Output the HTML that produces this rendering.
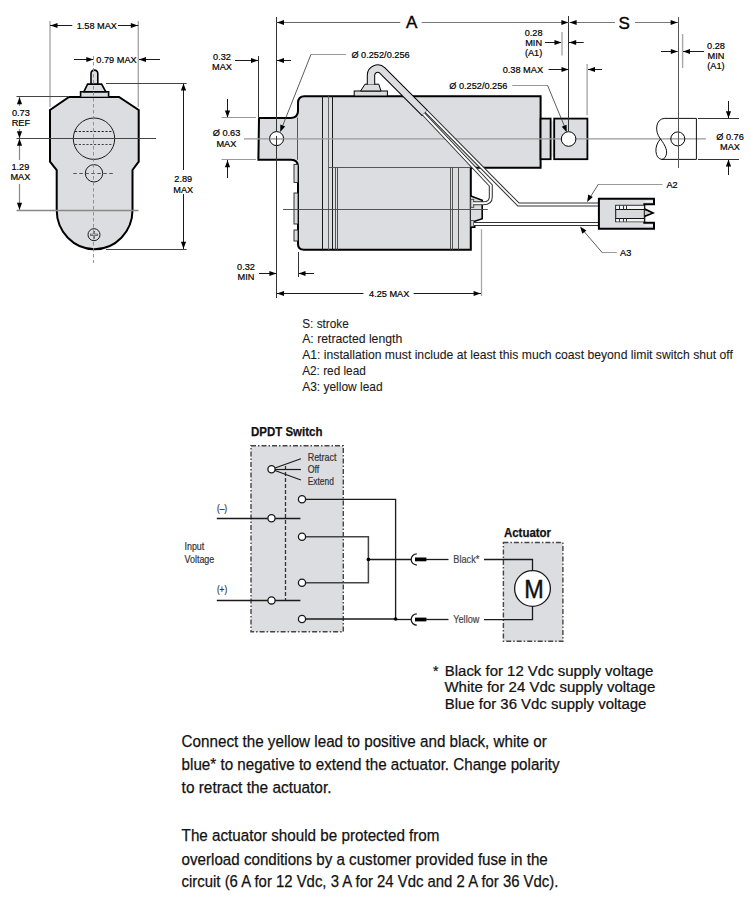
<!DOCTYPE html><html><head><meta charset="utf-8"><style>html,body{margin:0;padding:0;background:#fff;overflow:hidden;width:750px;height:904px;}svg{display:block;}text{font-family:"Liberation Sans",sans-serif;}</style></head><body>
<svg width="750" height="904" viewBox="0 0 750 904">
<path d="M69,97 L119,97 L138.7,110 L138.7,161.7 L132.5,170 L132.5,210 A37.9,39.2 0 0 1 56.7,210 L56.7,170 L50,161.7 L50,110 Z" fill="#dcdde0" stroke="#000" stroke-width="2" stroke-linejoin="miter"/>
<path d="M80.6,96.7 L80.6,91.8 L108.6,91.8 L108.6,96.7" fill="#dcdde0" stroke="#000" stroke-width="1.6"/>
<path d="M83.8,91.8 L87.6,84.1 L101.6,84.1 L105.8,91.8 Z" fill="#dcdde0" stroke="#000" stroke-width="1.6"/>
<path d="M91,84.1 L91,73.5 A3.4,3.4 0 0 1 97.8,73.5 L97.8,84.1 Z" fill="#dcdde0" stroke="#000" stroke-width="1.6"/>
<circle cx="94" cy="138.7" r="20.7" fill="none" stroke="#1a1a1a" stroke-width="1"/>
<line x1="75" y1="131.5" x2="113" y2="131.5" stroke="#222" stroke-width="1" stroke-dasharray="2.2,1.6"/>
<line x1="75" y1="144.5" x2="113" y2="144.5" stroke="#444" stroke-width="1" stroke-dasharray="2.2,1.6"/>
<circle cx="94" cy="173.3" r="8.7" fill="none" stroke="#1a1a1a" stroke-width="1"/>
<line x1="73.3" y1="173.5" x2="113.1" y2="173.5" stroke="#444" stroke-width="0.9" stroke-dasharray="3.5,2.5"/>
<circle cx="94" cy="234.7" r="6" fill="none" stroke="#1a1a1a" stroke-width="1"/>
<path d="M90.2,234.7 H97.8 M94,230.9 V238.5" stroke="#333" stroke-width="2"/>
<path d="M90.8,234.7 H97.2 M94,231.5 V237.9" stroke="#dcdde0" stroke-width="0.8"/>
<line x1="93.5" y1="56" x2="93.5" y2="263" stroke="#888" stroke-width="0.9" stroke-dasharray="3.5,2.5"/>
<line x1="50" y1="21" x2="50" y2="107" stroke="#a8a8a8" stroke-width="1.4" />
<line x1="138.3" y1="21" x2="138.3" y2="107" stroke="#a8a8a8" stroke-width="1.4" />
<line x1="16.5" y1="96.5" x2="69" y2="96.5" stroke="#444" stroke-width="1" />
<line x1="16.5" y1="138.5" x2="156" y2="138.5" stroke="#444" stroke-width="1" />
<line x1="16.5" y1="210.5" x2="138.5" y2="210.5" stroke="#888" stroke-width="1.3" />
<line x1="106" y1="83.5" x2="186.7" y2="83.5" stroke="#444" stroke-width="1" />
<line x1="106" y1="249.5" x2="186.7" y2="249.5" stroke="#444" stroke-width="1" />
<line x1="50" y1="25.5" x2="72.3" y2="25.5" stroke="#1a1a1a" stroke-width="1" />
<line x1="118" y1="25.5" x2="138.3" y2="25.5" stroke="#1a1a1a" stroke-width="1" />
<path d="M50.50,25.50 L57.50,22.90 L57.50,28.10 Z" fill="#000"/>
<path d="M137.80,25.50 L130.80,28.10 L130.80,22.90 Z" fill="#000"/>
<text x="96.8" y="28.6" font-size="9.2" text-anchor="middle" font-weight="normal" fill="#000" stroke="#000" stroke-width="0.2" >1.58 MAX</text>
<line x1="74" y1="59.5" x2="93.3" y2="59.5" stroke="#1a1a1a" stroke-width="1" />
<path d="M93.30,59.50 L86.30,62.10 L86.30,56.90 Z" fill="#000"/>
<line x1="139" y1="59.5" x2="160" y2="59.5" stroke="#1a1a1a" stroke-width="1" />
<path d="M139.00,59.50 L146.00,56.90 L146.00,62.10 Z" fill="#000"/>
<text x="96.3" y="62.8" font-size="9.2" text-anchor="start" font-weight="normal" fill="#000" stroke="#000" stroke-width="0.2" >0.79 MAX</text>
<line x1="19.5" y1="97" x2="19.5" y2="106" stroke="#888" stroke-width="1.2" />
<line x1="19.5" y1="129" x2="19.5" y2="138" stroke="#888" stroke-width="1.2" />
<path d="M19.50,97.20 L22.10,104.20 L16.90,104.20 Z" fill="#000"/>
<path d="M19.50,138.30 L16.90,131.30 L22.10,131.30 Z" fill="#000"/>
<text x="20.9" y="116" font-size="9.2" text-anchor="middle" font-weight="normal" fill="#000" stroke="#000" stroke-width="0.2" >0.73</text>
<text x="20.9" y="126.3" font-size="9.2" text-anchor="middle" font-weight="normal" fill="#000" stroke="#000" stroke-width="0.2" >REF</text>
<line x1="19.5" y1="139" x2="19.5" y2="160" stroke="#888" stroke-width="1.2" />
<line x1="19.5" y1="184" x2="19.5" y2="210" stroke="#888" stroke-width="1.2" />
<path d="M19.50,138.70 L22.10,145.70 L16.90,145.70 Z" fill="#000"/>
<path d="M19.50,209.80 L16.90,202.80 L22.10,202.80 Z" fill="#000"/>
<text x="20.4" y="169.6" font-size="9.2" text-anchor="middle" font-weight="normal" fill="#000" stroke="#000" stroke-width="0.2" >1.29</text>
<text x="20.4" y="180.1" font-size="9.2" text-anchor="middle" font-weight="normal" fill="#000" stroke="#000" stroke-width="0.2" >MAX</text>
<line x1="183.5" y1="83.3" x2="183.5" y2="170" stroke="#1a1a1a" stroke-width="1" />
<line x1="183.5" y1="194" x2="183.5" y2="249" stroke="#1a1a1a" stroke-width="1" />
<path d="M183.50,83.60 L186.10,90.60 L180.90,90.60 Z" fill="#000"/>
<path d="M183.50,248.70 L180.90,241.70 L186.10,241.70 Z" fill="#000"/>
<text x="183.3" y="182.3" font-size="9.2" text-anchor="middle" font-weight="normal" fill="#000" stroke="#000" stroke-width="0.2" >2.89</text>
<text x="183.3" y="192.5" font-size="9.2" text-anchor="middle" font-weight="normal" fill="#000" stroke="#000" stroke-width="0.2" >MAX</text>
<path d="M259,117.9 L291,117.9 Q298,117.6 298,111 L298,103 Q298,96.3 304.5,96.3 L540.6,96.3 L540.6,167.8 L470.8,167.8 L470.8,249.8 L304,249.8 Q298,249.8 298,244 L298,166.8 Q298,159.8 291,159.8 L258.4,159.8 Z" fill="#dcdde0" stroke="#000" stroke-width="2"/>
<line x1="297.5" y1="117.6" x2="297.5" y2="159.8" stroke="#555" stroke-width="1" />
<line x1="322.5" y1="96.3" x2="322.5" y2="249.8" stroke="#1a1a1a" stroke-width="1" />
<line x1="328.5" y1="96.3" x2="328.5" y2="249.8" stroke="#666" stroke-width="1" />
<line x1="332.5" y1="96.3" x2="332.5" y2="249.8" stroke="#1a1a1a" stroke-width="1" />
<line x1="328.6" y1="167.5" x2="470.8" y2="167.5" stroke="#555" stroke-width="1" />
<line x1="335.5" y1="167.6" x2="335.5" y2="249.8" stroke="#444" stroke-width="0.9" />
<line x1="337.5" y1="167.6" x2="337.5" y2="249.8" stroke="#444" stroke-width="0.9" />
<line x1="450.5" y1="167.6" x2="450.5" y2="249.8" stroke="#444" stroke-width="0.9" />
<line x1="452.5" y1="167.6" x2="452.5" y2="249.8" stroke="#444" stroke-width="0.9" />
<line x1="458.5" y1="167.6" x2="458.5" y2="249.8" stroke="#444" stroke-width="0.9" />
<rect x="294" y="164.4" width="4" height="18.0" fill="#dcdde0" stroke="#222" stroke-width="0.9"/>
<rect x="294" y="193" width="4" height="31" fill="#dcdde0" stroke="#222" stroke-width="0.9"/>
<rect x="294" y="230" width="4" height="11" fill="#dcdde0" stroke="#222" stroke-width="0.9"/>
<path d="M470.8,196 L482.2,200.3 L482.2,218.7 L474.7,221.3 L474.7,227.3 L470.8,227.3" fill="#dcdde0" stroke="#000" stroke-width="1.6"/>
<rect x="470.8" y="199.3" width="3" height="8" fill="#dcdde0" stroke="#333" stroke-width="0.8"/>
<rect x="470.8" y="220.6" width="3" height="6" fill="#dcdde0" stroke="#333" stroke-width="0.8"/>
<rect x="550.6" y="121" width="3.6" height="36" fill="#e8e8e8"/>
<rect x="540.6" y="118.6" width="10" height="40.6" fill="#dcdde0" stroke="#000" stroke-width="1.8"/>
<rect x="554.2" y="118.6" width="33.2" height="40.6" fill="#dcdde0" stroke="#000" stroke-width="1.8"/>
<line x1="244" y1="138.9" x2="706" y2="138.9" stroke="#999" stroke-width="1.4" />
<line x1="283" y1="209.5" x2="487.8" y2="209.5" stroke="#444" stroke-width="0.9" />
<rect x="354.2" y="91" width="33.2" height="5" fill="#dcdde0" stroke="#000" stroke-width="1"/>
<path d="M360.6,91 L365,84.2 L378.8,84.2 L381,91 Z" fill="#dcdde0" stroke="#000" stroke-width="1"/>
<path d="M371,84.5 L371,75.25 A6.65,6.65 0 0 1 382.35,70.55 L424.8,113" fill="none" stroke="#000" stroke-width="8.4"/>
<path d="M371,84.5 L371,75.25 A6.65,6.65 0 0 1 382.35,70.55 L424.8,113" fill="none" stroke="#dcdde0" stroke-width="6.4"/>
<path d="M421.9,115.9 L427.7,110.1" stroke="#000" stroke-width="1"/>
<path d="M423.5,114 L490.8,185.5 L490.8,197 Q490.8,203.2 483.5,203.2 L473,203.2" fill="none" stroke="#333" stroke-width="4" stroke-linejoin="miter"/>
<path d="M426.3,111.3 L518.4,204.5 L599,204.5" fill="none" stroke="#333" stroke-width="4" stroke-linejoin="miter"/>
<path d="M474,224 L599,224" fill="none" stroke="#333" stroke-width="4" stroke-linejoin="miter"/>
<path d="M423.5,114 L490.8,185.5 L490.8,197 Q490.8,203.2 483.5,203.2 L473,203.2" fill="none" stroke="#fff" stroke-width="1.9" stroke-linejoin="miter"/>
<path d="M426.3,111.3 L518.4,204.5 L599,204.5" fill="none" stroke="#fff" stroke-width="1.9" stroke-linejoin="miter"/>
<path d="M474,224 L599,224" fill="none" stroke="#fff" stroke-width="1.9" stroke-linejoin="miter"/>
<path d="M598.9,198.7 L654,198.7 L654,204.3 L644.3,204.3 L644.3,209 L652.6,212.9 L644.3,216.3 L644.3,222.7 L654,222.7 L654,228.7 L598.9,228.7 Z" fill="#dcdde0" stroke="#000" stroke-width="2"/>
<rect x="615.7" y="205.3" width="28.6" height="16.4" fill="#d8d9dc" stroke="#111" stroke-width="1"/>
<rect x="616.2" y="205.8" width="27.6" height="3.5" fill="#f3f3f3"/>
<rect x="616.2" y="218.3" width="27.6" height="3.2" fill="#f3f3f3"/>
<line x1="615.7" y1="209.5" x2="644.3" y2="209.5" stroke="#111" stroke-width="1" />
<line x1="615.7" y1="218.5" x2="644.3" y2="218.5" stroke="#111" stroke-width="1" />
<line x1="619.5" y1="205.3" x2="619.5" y2="209.3" stroke="#333" stroke-width="1" />
<line x1="619.5" y1="218.3" x2="619.5" y2="221.7" stroke="#333" stroke-width="1" />
<line x1="623.5" y1="205.3" x2="623.5" y2="209.3" stroke="#333" stroke-width="1" />
<line x1="623.5" y1="218.3" x2="623.5" y2="221.7" stroke="#333" stroke-width="1" />
<line x1="626.5" y1="205.3" x2="626.5" y2="209.3" stroke="#333" stroke-width="1" />
<line x1="626.5" y1="218.3" x2="626.5" y2="221.7" stroke="#333" stroke-width="1" />
<line x1="645" y1="201.5" x2="653" y2="201.5" stroke="#f3f3f3" stroke-width="1.2" />
<line x1="645" y1="225.5" x2="653" y2="225.5" stroke="#f3f3f3" stroke-width="1.2" />
<path d="M645.5,210.5 L651,212.9 L645.5,215 Z" fill="#c9c9c9"/>
<path d="M664.2,118.4 L696.4,118.4 L696.4,159.4 L661.5,159.4" fill="none" stroke="#111" stroke-width="1"/>
<path d="M664.2,118.4 C656,119 654,131 660.5,139 C665,145 669,152 665,157.5 Q663.5,159.4 661.5,159.4 C655,158.5 653.5,146 660.5,139" fill="none" stroke="#111" stroke-width="1"/>
<circle cx="677.8" cy="138.9" r="7" fill="none" stroke="#000" stroke-width="1"/>
<line x1="678.5" y1="17" x2="678.5" y2="168" stroke="#555" stroke-width="1" />
<line x1="276.5" y1="17" x2="276.5" y2="298" stroke="#333" stroke-width="1" />
<line x1="568.5" y1="16" x2="568.5" y2="131" stroke="#333" stroke-width="1" />
<line x1="276.6" y1="22.5" x2="400.3" y2="22.5" stroke="#666" stroke-width="1" />
<line x1="421.6" y1="22.5" x2="568.8" y2="22.5" stroke="#777" stroke-width="1" />
<path d="M277.00,22.50 L284.00,19.90 L284.00,25.10 Z" fill="#000"/>
<path d="M568.40,22.50 L561.40,25.10 L561.40,19.90 Z" fill="#000"/>
<text x="411.7" y="27.6" font-size="17" text-anchor="middle" font-weight="normal" fill="#000" stroke="#000" stroke-width="0.35" >A</text>
<line x1="569.5" y1="22.5" x2="615" y2="22.5" stroke="#777" stroke-width="1" />
<line x1="635" y1="22.5" x2="678" y2="22.5" stroke="#777" stroke-width="1" />
<path d="M569.60,22.50 L576.60,19.90 L576.60,25.10 Z" fill="#000"/>
<path d="M677.60,22.50 L670.60,25.10 L670.60,19.90 Z" fill="#000"/>
<text x="624.2" y="29" font-size="17" text-anchor="middle" font-weight="normal" fill="#000" stroke="#000" stroke-width="0.35" >S</text>
<line x1="258.5" y1="56" x2="258.5" y2="118" stroke="#333" stroke-width="1" />
<line x1="235" y1="60.5" x2="258" y2="60.5" stroke="#1a1a1a" stroke-width="1" />
<path d="M258.00,60.50 L251.00,63.10 L251.00,57.90 Z" fill="#000"/>
<line x1="277" y1="60.5" x2="291" y2="60.5" stroke="#1a1a1a" stroke-width="1" />
<path d="M277.00,60.50 L284.00,57.90 L284.00,63.10 Z" fill="#000"/>
<text x="222" y="60.3" font-size="9.2" text-anchor="middle" font-weight="normal" fill="#000" stroke="#000" stroke-width="0.2" >0.32</text>
<text x="222" y="69.9" font-size="9.2" text-anchor="middle" font-weight="normal" fill="#000" stroke="#000" stroke-width="0.2" >MAX</text>
<line x1="221.6" y1="117.5" x2="256" y2="117.5" stroke="#999" stroke-width="1.2" />
<line x1="221.6" y1="159.5" x2="256" y2="159.5" stroke="#999" stroke-width="1.2" />
<line x1="227.5" y1="99" x2="227.5" y2="117" stroke="#1a1a1a" stroke-width="1" />
<path d="M227.50,117.40 L224.90,110.40 L230.10,110.40 Z" fill="#000"/>
<line x1="227.5" y1="160" x2="227.5" y2="178" stroke="#1a1a1a" stroke-width="1" />
<path d="M227.50,160.20 L230.10,167.20 L224.90,167.20 Z" fill="#000"/>
<text x="226.5" y="136.3" font-size="9.2" text-anchor="middle" font-weight="normal" fill="#000" stroke="#000" stroke-width="0.2" >Ø 0.63</text>
<text x="226.4" y="146.9" font-size="9.2" text-anchor="middle" font-weight="normal" fill="#000" stroke="#000" stroke-width="0.2" >MAX</text>
<line x1="311" y1="54.5" x2="346" y2="54.5" stroke="#999" stroke-width="1" />
<line x1="311" y1="54.4" x2="281" y2="130" stroke="#333" stroke-width="0.8" />
<path d="M280.20,132.00 L280.32,124.53 L285.17,126.42 Z" fill="#000"/>
<text x="351.4" y="57.9" font-size="9.2" text-anchor="start" font-weight="normal" fill="#000" stroke="#000" stroke-width="0.2" >Ø 0.252/0.256</text>
<line x1="562" y1="32" x2="562" y2="55.5" stroke="#a8a8a8" stroke-width="1.4" />
<line x1="545" y1="42.5" x2="561" y2="42.5" stroke="#1a1a1a" stroke-width="1" />
<path d="M561.50,42.50 L554.50,45.10 L554.50,39.90 Z" fill="#000"/>
<line x1="569" y1="42.5" x2="583.7" y2="42.5" stroke="#1a1a1a" stroke-width="1" />
<path d="M569.20,42.50 L576.20,39.90 L576.20,45.10 Z" fill="#000"/>
<text x="533.6" y="36.3" font-size="9.2" text-anchor="middle" font-weight="normal" fill="#000" stroke="#000" stroke-width="0.2" >0.28</text>
<text x="533.6" y="46" font-size="9.2" text-anchor="middle" font-weight="normal" fill="#000" stroke="#000" stroke-width="0.2" >MIN</text>
<text x="533.6" y="56.3" font-size="9.2" text-anchor="middle" font-weight="normal" fill="#000" stroke="#000" stroke-width="0.2" >(A1)</text>
<line x1="587.1" y1="64" x2="587.1" y2="115.2" stroke="#a8a8a8" stroke-width="1.4" />
<line x1="548.5" y1="69.5" x2="568.5" y2="69.5" stroke="#1a1a1a" stroke-width="1" />
<path d="M568.50,69.50 L561.50,72.10 L561.50,66.90 Z" fill="#000"/>
<line x1="588" y1="69.5" x2="602" y2="69.5" stroke="#1a1a1a" stroke-width="1" />
<path d="M588.00,69.50 L595.00,66.90 L595.00,72.10 Z" fill="#000"/>
<text x="502.7" y="73.3" font-size="9.2" text-anchor="start" font-weight="normal" fill="#000" stroke="#000" stroke-width="0.2" >0.38 MAX</text>
<line x1="512.3" y1="85.5" x2="547.5" y2="85.5" stroke="#999" stroke-width="1" />
<line x1="547.5" y1="85.3" x2="566" y2="130" stroke="#333" stroke-width="0.8" />
<path d="M566.70,132.30 L561.73,126.72 L566.58,124.83 Z" fill="#000"/>
<text x="449.2" y="88.8" font-size="9.2" text-anchor="start" font-weight="normal" fill="#000" stroke="#000" stroke-width="0.2" >Ø 0.252/0.256</text>
<line x1="682.6" y1="34" x2="682.6" y2="68" stroke="#a8a8a8" stroke-width="1.4" />
<line x1="661" y1="51.5" x2="677.6" y2="51.5" stroke="#1a1a1a" stroke-width="1" />
<path d="M677.80,51.50 L670.80,54.10 L670.80,48.90 Z" fill="#000"/>
<line x1="683" y1="51.5" x2="704" y2="51.5" stroke="#1a1a1a" stroke-width="1" />
<path d="M683.00,51.50 L690.00,48.90 L690.00,54.10 Z" fill="#000"/>
<text x="716" y="48.9" font-size="9.2" text-anchor="middle" font-weight="normal" fill="#000" stroke="#000" stroke-width="0.2" >0.28</text>
<text x="716" y="58.9" font-size="9.2" text-anchor="middle" font-weight="normal" fill="#000" stroke="#000" stroke-width="0.2" >MIN</text>
<text x="716" y="69.3" font-size="9.2" text-anchor="middle" font-weight="normal" fill="#000" stroke="#000" stroke-width="0.2" >(A1)</text>
<line x1="698" y1="118.5" x2="739" y2="118.5" stroke="#333" stroke-width="1" />
<line x1="698" y1="159.5" x2="739" y2="159.5" stroke="#333" stroke-width="1" />
<line x1="728.5" y1="101" x2="728.5" y2="118" stroke="#1a1a1a" stroke-width="1" />
<path d="M728.50,118.20 L725.90,111.20 L731.10,111.20 Z" fill="#000"/>
<line x1="728.5" y1="160" x2="728.5" y2="175" stroke="#1a1a1a" stroke-width="1" />
<path d="M728.50,159.60 L731.10,166.60 L725.90,166.60 Z" fill="#000"/>
<text x="730" y="139.9" font-size="9.2" text-anchor="middle" font-weight="normal" fill="#000" stroke="#000" stroke-width="0.2" >Ø 0.76</text>
<text x="730" y="150.3" font-size="9.2" text-anchor="middle" font-weight="normal" fill="#000" stroke="#000" stroke-width="0.2" >MAX</text>
<line x1="298.5" y1="252" x2="298.5" y2="277" stroke="#333" stroke-width="1" />
<line x1="259" y1="273.5" x2="276.4" y2="273.5" stroke="#1a1a1a" stroke-width="1" />
<path d="M276.40,273.50 L269.40,276.10 L269.40,270.90 Z" fill="#000"/>
<line x1="298.5" y1="273.5" x2="314" y2="273.5" stroke="#1a1a1a" stroke-width="1" />
<path d="M298.50,273.50 L305.50,270.90 L305.50,276.10 Z" fill="#000"/>
<text x="246" y="270.3" font-size="9.2" text-anchor="middle" font-weight="normal" fill="#000" stroke="#000" stroke-width="0.2" >0.32</text>
<text x="246" y="280.3" font-size="9.2" text-anchor="middle" font-weight="normal" fill="#000" stroke="#000" stroke-width="0.2" >MIN</text>
<line x1="481.5" y1="229.2" x2="481.5" y2="296" stroke="#a8a8a8" stroke-width="1.3" />
<line x1="276.6" y1="293.5" x2="363.5" y2="293.5" stroke="#1a1a1a" stroke-width="1" />
<line x1="413.6" y1="293.5" x2="481" y2="293.5" stroke="#1a1a1a" stroke-width="1" />
<path d="M277.00,293.50 L284.00,290.90 L284.00,296.10 Z" fill="#000"/>
<path d="M480.60,293.50 L473.60,296.10 L473.60,290.90 Z" fill="#000"/>
<text x="389.2" y="297" font-size="9.2" text-anchor="middle" font-weight="normal" fill="#000" stroke="#000" stroke-width="0.2" >4.25 MAX</text>
<line x1="598.4" y1="184.5" x2="662.4" y2="184.5" stroke="#999" stroke-width="1" />
<line x1="598.4" y1="184.1" x2="588.5" y2="200" stroke="#333" stroke-width="0.8" />
<path d="M587.20,202.00 L588.18,194.60 L592.78,197.03 Z" fill="#000"/>
<text x="666.4" y="187.5" font-size="9.2" text-anchor="start" font-weight="normal" fill="#000" stroke="#000" stroke-width="0.2" >A2</text>
<line x1="602.4" y1="252.5" x2="616.8" y2="252.5" stroke="#999" stroke-width="1" />
<line x1="602.4" y1="252.8" x2="581.5" y2="228.5" stroke="#333" stroke-width="0.8" />
<path d="M580.00,226.60 L586.40,230.44 L582.34,233.69 Z" fill="#000"/>
<text x="620" y="256.2" font-size="9.2" text-anchor="start" font-weight="normal" fill="#000" stroke="#000" stroke-width="0.2" >A3</text>
<circle cx="276.6" cy="138.6" r="7" fill="#fff" stroke="#000" stroke-width="1"/>
<line x1="269.6" y1="138.9" x2="283.6" y2="138.9" stroke="#999" stroke-width="1.4" />
<line x1="276.5" y1="136" x2="276.5" y2="145.6" stroke="#333" stroke-width="1" />
<circle cx="568.6" cy="139" r="7.3" fill="#fff" stroke="#000" stroke-width="1"/>
<text x="302.2" y="327.6" font-size="13.6" text-anchor="start" font-weight="normal" fill="#1a1a1a" textLength="46.6" lengthAdjust="spacingAndGlyphs" stroke="#1a1a1a" stroke-width="0.1" >S: stroke</text>
<text x="302.2" y="343.3" font-size="13.6" text-anchor="start" font-weight="normal" fill="#1a1a1a" textLength="100.1" lengthAdjust="spacingAndGlyphs" stroke="#1a1a1a" stroke-width="0.1" >A: retracted length</text>
<text x="302.2" y="359.4" font-size="13.6" text-anchor="start" font-weight="normal" fill="#1a1a1a" textLength="430.7" lengthAdjust="spacingAndGlyphs" stroke="#1a1a1a" stroke-width="0.1" >A1: installation must include at least this much coast beyond limit switch shut off</text>
<text x="302.2" y="375.3" font-size="13.6" text-anchor="start" font-weight="normal" fill="#1a1a1a" textLength="63.6" lengthAdjust="spacingAndGlyphs" stroke="#1a1a1a" stroke-width="0.1" >A2: red lead</text>
<text x="302.2" y="391.3" font-size="13.6" text-anchor="start" font-weight="normal" fill="#1a1a1a" textLength="80.4" lengthAdjust="spacingAndGlyphs" stroke="#1a1a1a" stroke-width="0.1" >A3: yellow lead</text>
<text x="251" y="435.5" font-size="12.8" text-anchor="start" font-weight="bold" fill="#111" textLength="71.4" lengthAdjust="spacingAndGlyphs" stroke="#111" stroke-width="0.25" >DPDT Switch</text>
<rect x="251" y="445.8" width="92.3" height="186" fill="#dcdde0" stroke="#444" stroke-width="1.4" stroke-dasharray="5,2,1.5,2"/>
<line x1="285.5" y1="466" x2="285.5" y2="600.3" stroke="#333" stroke-width="1.3" stroke-dasharray="4,2"/>
<line x1="271.5" y1="469.3" x2="300.9" y2="458.7" stroke="#1a1a1a" stroke-width="1.2" />
<line x1="271.5" y1="469.5" x2="300.9" y2="469.5" stroke="#1a1a1a" stroke-width="1.2" />
<line x1="271.5" y1="469.3" x2="300.9" y2="480" stroke="#1a1a1a" stroke-width="1.2" />
<circle cx="271.5" cy="469.3" r="3.6" fill="#fff" stroke="#1a1a1a" stroke-width="1.3"/>
<text x="307.7" y="461.2" font-size="10.4" text-anchor="start" font-weight="normal" fill="#333" textLength="28.8" lengthAdjust="spacingAndGlyphs" stroke="#333" stroke-width="0.2" >Retract</text>
<text x="307.7" y="472.9" font-size="10.4" text-anchor="start" font-weight="normal" fill="#333" textLength="11.5" lengthAdjust="spacingAndGlyphs" stroke="#333" stroke-width="0.2" >Off</text>
<text x="307.7" y="484.7" font-size="10.4" text-anchor="start" font-weight="normal" fill="#333" textLength="26.2" lengthAdjust="spacingAndGlyphs" stroke="#333" stroke-width="0.2" >Extend</text>
<line x1="216.8" y1="518.5" x2="300.4" y2="518.5" stroke="#1a1a1a" stroke-width="1.3" />
<line x1="216.8" y1="600.5" x2="300.4" y2="600.5" stroke="#1a1a1a" stroke-width="1.3" />
<circle cx="271.5" cy="518.3" r="3.6" fill="#fff" stroke="#1a1a1a" stroke-width="1.3"/>
<circle cx="271.5" cy="600.4" r="3.6" fill="#fff" stroke="#1a1a1a" stroke-width="1.3"/>
<text x="222" y="511.5" font-size="10" text-anchor="middle" font-weight="normal" fill="#333" textLength="10.2" lengthAdjust="spacingAndGlyphs" stroke="#333" stroke-width="0.2" >(–)</text>
<text x="222" y="593.3" font-size="10" text-anchor="middle" font-weight="normal" fill="#333" textLength="10.2" lengthAdjust="spacingAndGlyphs" stroke="#333" stroke-width="0.2" >(+)</text>
<text x="184.5" y="549.7" font-size="10.4" text-anchor="start" font-weight="normal" fill="#333" textLength="19.8" lengthAdjust="spacingAndGlyphs" stroke="#333" stroke-width="0.2" >Input</text>
<text x="184.5" y="563.3" font-size="10.4" text-anchor="start" font-weight="normal" fill="#333" textLength="29.8" lengthAdjust="spacingAndGlyphs" stroke="#333" stroke-width="0.2" >Voltage</text>
<path d="M302,499.3 H395.6 V619 H302" fill="none" stroke="#1a1a1a" stroke-width="1.3"/>
<path d="M302,536.7 H368.4 V582.7 H302" fill="none" stroke="#444" stroke-width="1.5"/>
<line x1="368.4" y1="559.5" x2="411" y2="559.5" stroke="#1a1a1a" stroke-width="1.3" />
<line x1="395.6" y1="619.5" x2="411" y2="619.5" stroke="#1a1a1a" stroke-width="1.3" />
<circle cx="302" cy="499.3" r="3.6" fill="#fff" stroke="#1a1a1a" stroke-width="1.3"/>
<circle cx="302" cy="536.7" r="3.6" fill="#fff" stroke="#1a1a1a" stroke-width="1.3"/>
<circle cx="302" cy="582.7" r="3.6" fill="#fff" stroke="#1a1a1a" stroke-width="1.3"/>
<circle cx="302" cy="619" r="3.6" fill="#fff" stroke="#1a1a1a" stroke-width="1.3"/>
<circle cx="368.4" cy="559.4" r="1.8" fill="#000"/>
<circle cx="395.6" cy="619" r="1.8" fill="#000"/>
<path d="M416.8,553.8 A5.6,5.6 0 0 0 416.8,565.0" fill="none" stroke="#1a1a1a" stroke-width="1.3"/>
<rect x="415" y="557.5" width="11.4" height="3.8" fill="#000"/>
<line x1="426" y1="559.5" x2="448.5" y2="559.5" stroke="#1a1a1a" stroke-width="1.3" />
<path d="M416.8,613.9 A5.6,5.6 0 0 0 416.8,625.1" fill="none" stroke="#1a1a1a" stroke-width="1.3"/>
<rect x="415" y="617.6" width="11.4" height="3.8" fill="#000"/>
<line x1="426" y1="619.5" x2="448.5" y2="619.5" stroke="#1a1a1a" stroke-width="1.3" />
<text x="453.3" y="562.5" font-size="10.4" text-anchor="start" font-weight="normal" fill="#444" textLength="26" lengthAdjust="spacingAndGlyphs" stroke="#444" stroke-width="0.2" >Black*</text>
<text x="453.3" y="622.6" font-size="10.4" text-anchor="start" font-weight="normal" fill="#444" textLength="26" lengthAdjust="spacingAndGlyphs" stroke="#444" stroke-width="0.2" >Yellow</text>
<text x="503.9" y="536.8" font-size="12.5" text-anchor="start" font-weight="bold" fill="#111" textLength="47.2" lengthAdjust="spacingAndGlyphs" stroke="#111" stroke-width="0.25" >Actuator</text>
<rect x="503.4" y="542.5" width="59.5" height="98.8" fill="#dcdde0" stroke="#444" stroke-width="1.4" stroke-dasharray="5,2,1.5,2"/>
<path d="M484,559.5 H532.5 V571 M484,619.7 H532.5 V606.4" fill="none" stroke="#1a1a1a" stroke-width="1.3"/>
<circle cx="532.5" cy="588.5" r="17.9" fill="#fff" stroke="#1a1a1a" stroke-width="1.3"/>
<text x="533.9" y="597.5" font-size="25" text-anchor="middle" font-weight="normal" fill="#111" textLength="19.5" lengthAdjust="spacingAndGlyphs" stroke="#111" stroke-width="0.45" >M</text>
<text x="433" y="675.8" font-size="14" text-anchor="start" font-weight="normal" fill="#111" stroke="#111" stroke-width="0.22" >*</text>
<text x="444.8" y="675.8" font-size="14" text-anchor="start" font-weight="normal" fill="#111" textLength="208.5" lengthAdjust="spacingAndGlyphs" stroke="#111" stroke-width="0.22" >Black for 12 Vdc supply voltage</text>
<text x="444.4" y="692.4" font-size="14" text-anchor="start" font-weight="normal" fill="#111" textLength="210.9" lengthAdjust="spacingAndGlyphs" stroke="#111" stroke-width="0.22" >White for 24 Vdc supply voltage</text>
<text x="444.8" y="709.4" font-size="14" text-anchor="start" font-weight="normal" fill="#111" textLength="201.5" lengthAdjust="spacingAndGlyphs" stroke="#111" stroke-width="0.22" >Blue for 36 Vdc supply voltage</text>
<text x="181.6" y="746.9" font-size="16.8" text-anchor="start" font-weight="normal" fill="#111" textLength="365.2" lengthAdjust="spacingAndGlyphs" stroke="#111" stroke-width="0.25" >Connect the yellow lead to positive and black, white or</text>
<text x="181.6" y="770.3" font-size="16.8" text-anchor="start" font-weight="normal" fill="#111" textLength="378.0" lengthAdjust="spacingAndGlyphs" stroke="#111" stroke-width="0.25" >blue* to negative to extend the actuator. Change polarity</text>
<text x="181.6" y="793" font-size="16.8" text-anchor="start" font-weight="normal" fill="#111" textLength="149.9" lengthAdjust="spacingAndGlyphs" stroke="#111" stroke-width="0.25" >to retract the actuator.</text>
<text x="181.6" y="840.9" font-size="16.8" text-anchor="start" font-weight="normal" fill="#111" textLength="257.9" lengthAdjust="spacingAndGlyphs" stroke="#111" stroke-width="0.25" >The actuator should be protected from</text>
<text x="181.6" y="864.9" font-size="16.8" text-anchor="start" font-weight="normal" fill="#111" textLength="366.2" lengthAdjust="spacingAndGlyphs" stroke="#111" stroke-width="0.25" >overload conditions by a customer provided fuse in the</text>
<text x="181.6" y="887.3" font-size="16.8" text-anchor="start" font-weight="normal" fill="#111" textLength="376.8" lengthAdjust="spacingAndGlyphs" stroke="#111" stroke-width="0.25" >circuit (6 A for 12 Vdc, 3 A for 24 Vdc and 2 A for 36 Vdc).</text>
<!--MAIN-->
</svg></body></html>
